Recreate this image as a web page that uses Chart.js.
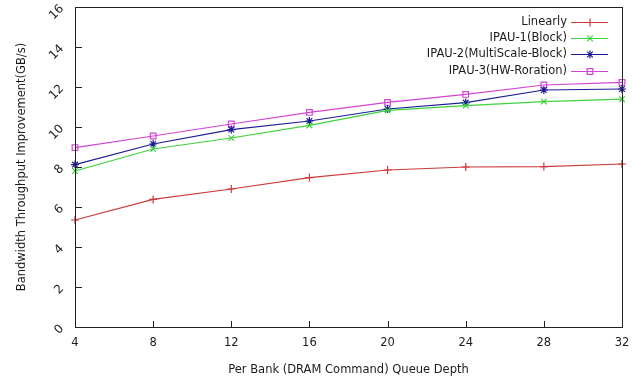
<!DOCTYPE html>
<html>
<head>
<meta charset="utf-8">
<script src="https://cdn.jsdelivr.net/npm/chart.js@4"></script>
<style>
  html, body { margin: 0; padding: 0; background: #fff; }
  #wrap { width: 632px; height: 377px; }
</style>
</head>
<body>
<div id="wrap"><canvas id="chart" width="632" height="377"></canvas></div>
<script>
// queue depth (x) and the four series
const depths = [4, 8, 12, 16, 20, 24, 28, 32];
const linearly = [5.35, 6.38, 6.9, 7.47, 7.85, 8.0, 8.02, 8.15];
const ipau1 = [7.8, 8.9, 9.45, 10.08, 10.83, 11.07, 11.27, 11.39];
const ipau2 = [8.12, 9.15, 9.87, 10.3, 10.9, 11.22, 11.85, 11.9];
const ipau3 = [8.97, 9.55, 10.15, 10.73, 11.23, 11.63, 12.1, 12.23];
const seriesNames = ['Linearly', 'IPAU-1(Block)', 'IPAU-2(MultiScale-Block)', 'IPAU-3(HW-Roration)'];
const yTicks = [0, 2, 4, 6, 8, 10, 12, 14, 16];

const FONT = 'DejaVu Sans';
const TEXT = '#1c1c1c';

const mk = (label, data, color, style) => ({
  label: label,
  data: data,
  borderColor: color,
  backgroundColor: 'rgba(0,0,0,0)',
  borderWidth: 1.2,
  pointStyle: style,
  pointRadius: 4,
  pointBorderColor: color,
  pointBackgroundColor: 'rgba(0,0,0,0)',
  pointBorderWidth: 1.2,
  tension: 0
});

// frame, inward tick marks and gnuplot-style legend
const framePlugin = {
  id: 'frame',
  afterDraw(chart) {
    const ctx = chart.ctx;
    const a = chart.chartArea;
    const xs = chart.scales.x, ys = chart.scales.y;
    ctx.save();
    ctx.strokeStyle = '#222';
    ctx.lineWidth = 1;
    ctx.strokeRect(Math.round(a.left) + 0.5, Math.round(a.top) + 0.5,
      Math.round(a.right - a.left), Math.round(a.bottom - a.top));
    ctx.beginPath();
    yTicks.forEach(v => {
      const y = Math.round(ys.getPixelForValue(v)) + 0.5;
      ctx.moveTo(a.left, y);
      ctx.lineTo(a.left + 7, y);
    });
    depths.forEach((d, i) => {
      const x = Math.round(xs.getPixelForValue(i)) + 0.5;
      ctx.moveTo(x, a.bottom);
      ctx.lineTo(x, a.bottom - 6);
    });
    ctx.stroke();

    // legend
    ctx.font = '11.5px "' + FONT + '"';
    ctx.textAlign = 'right';
    ctx.textBaseline = 'middle';
    chart.data.datasets.forEach((ds, i) => {
      const y = Math.round(21.5 + i * 16.4) + 0.5;
      ctx.fillStyle = TEXT;
      ctx.fillText(ds.label, 567, y);
      ctx.strokeStyle = ds.borderColor;
      ctx.lineWidth = 1.2;
      ctx.fillStyle = 'rgba(0,0,0,0)';
      ctx.beginPath();
      ctx.moveTo(571, y);
      ctx.lineTo(608, y);
      ctx.stroke();
      Chart.helpers.drawPoint(ctx, {
        pointStyle: ds.pointStyle, radius: 4, borderWidth: 1.2, rotation: 0
      }, 590, y);
    });
    ctx.restore();
  }
};

new Chart(document.getElementById('chart'), {
  type: 'line',
  data: {
    labels: depths.map(String),
    datasets: [
      mk(seriesNames[0], linearly, '#cc3a3a', 'cross'),
      mk(seriesNames[1], ipau1, '#3ed23e', 'crossRot'),
      mk(seriesNames[2], ipau2, '#1c1c96', 'star'),
      mk(seriesNames[3], ipau3, '#d244d2', 'rect')
    ]
  },
  options: {
    responsive: false,
    animation: false,
    layout: { padding: { top: 7, right: 10, left: 0, bottom: 0 } },
    plugins: {
      legend: { display: false },
      tooltip: { enabled: false }
    },
    scales: {
      x: {
        type: 'category',
        offset: false,
        grid: { display: false, drawTicks: false },
        border: { display: false },
        ticks: {
          color: TEXT,
          font: { family: FONT, size: 11.5 },
          padding: 9,
          maxRotation: 0,
          autoSkip: false
        },
        title: {
          display: true,
          text: 'Per Bank (DRAM Command) Queue Depth',
          color: TEXT,
          font: { family: FONT, size: 11.5 },
          padding: { top: 6, bottom: 0 }
        },
        afterFit(scale) {
          scale.height = 50;
          scale.paddingLeft = 0;
          scale.paddingRight = 0;
        }
      },
      y: {
        min: 0,
        max: 16,
        grid: { display: false, drawTicks: false },
        border: { display: false },
        afterBuildTicks(scale) { scale.ticks = yTicks.map(v => ({ value: v })); },
        ticks: {
          color: TEXT,
          font: { family: FONT, size: 12 },
          padding: 13,
          minRotation: 45,
          maxRotation: 45
        },
        title: {
          display: true,
          text: 'Bandwidth Throughput Improvement(GB/s)',
          color: TEXT,
          font: { family: FONT, size: 11.5 },
          padding: { top: 15, bottom: 0 }
        },
        afterFit(scale) {
          scale.width = 75;
          scale.paddingTop = 0;
          scale.paddingBottom = 0;
        }
      }
    }
  },
  plugins: [framePlugin]
});
</script>
</body>
</html>
